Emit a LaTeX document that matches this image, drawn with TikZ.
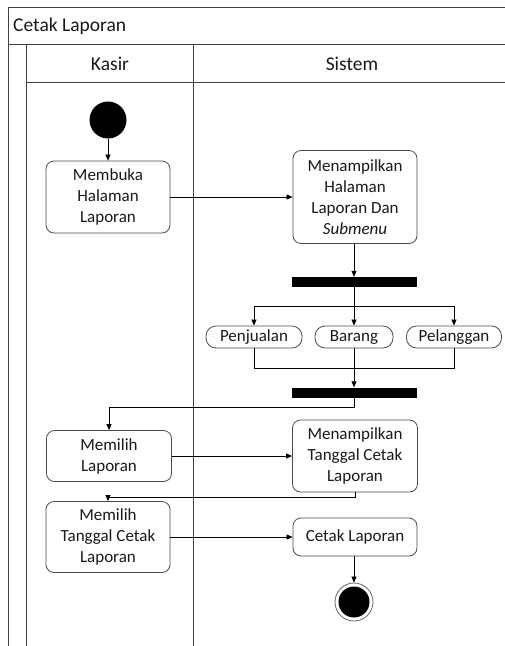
\documentclass[tikz,border=0pt]{standalone}
\usepackage{fontspec}
\setmainfont{Carlito}
\usetikzlibrary{arrows.meta}
\begin{document}
\begin{tikzpicture}[x=1pt,y=-1pt,
  act/.style={draw=black!70, rounded corners=8pt, align=center, font=\fontsize{17}{21}\selectfont, inner sep=0pt, line width=0.8pt, fill=white, text=black!90},
  one/.style={text height=12pt, text depth=4pt},
  bar/.style={fill=black, inner sep=0pt, minimum width=125pt, minimum height=10pt},
  arr/.style={-{Triangle[length=6pt,width=5pt]}, line width=0.7pt},
  conn/.style={line width=0.7pt},
  lane/.style={draw=black!75, line width=1pt},
  hdr/.style={font=\fontsize{19.5}{22}\selectfont, inner sep=0pt, text=black!90}]
\useasboundingbox (0,0) rectangle (505,646);
% frame
\draw[lane] (8,646) -- (8,7) -- (505,7);
\draw[lane] (8,44) -- (505,44);
\draw[lane] (26,646) -- (26,44);
\draw[lane] (26,82) -- (505,82);
\draw[lane] (193,44) -- (193,646);
\node[hdr, anchor=base west] (title) at (13,31.5) {Cetak Laporan};
\node[hdr, anchor=base] (kasir) at (110,70) {Kasir};
\node[hdr, anchor=base] (sistem) at (352,70) {Sistem};
% nodes
\node[circle, fill=black, minimum size=37pt, inner sep=0pt] (start) at (108,120) {};
\node[act, minimum width=124pt, minimum height=72pt] (b1) at (108,197) {Membuka\\Halaman\\Laporan};
\node[act, minimum width=124pt, minimum height=93pt] (b2) at (355,197) {Menampilkan\\Halaman\\Laporan Dan\\\textit{Submenu}};
\node[bar] (f1) at (354,282) {};
\node[act, one, minimum width=96pt, minimum height=22pt, rounded corners=10pt] (pj) at (254,337) {Penjualan};
\node[act, one, minimum width=78pt, minimum height=22pt, rounded corners=10pt] (br) at (354,337) {Barang};
\node[act, one, minimum width=95pt, minimum height=22pt, rounded corners=10pt] (pl) at (454,337) {Pelanggan};
\node[bar] (f2) at (354,392.5) {};
\node[act, minimum width=125pt, minimum height=51pt] (ml) at (109,456) {Memilih\\Laporan};
\node[act, minimum width=125pt, minimum height=72pt] (mt) at (355,456) {Menampilkan\\Tanggal Cetak\\Laporan};
\node[act, minimum width=124pt, minimum height=71pt] (mtc) at (108,537) {Memilih\\Tanggal Cetak\\Laporan};
\node[act, one, minimum width=124pt, minimum height=38pt] (ct) at (355,537) {Cetak Laporan};
\node[circle, draw=black!60, line width=0.8pt, minimum size=38pt, inner sep=0pt] (end) at (354,602) {};
\fill[black] (end.center) circle (15.5pt);
% connectors
\draw[arr] (start) -- (b1);
\draw[arr] (b1) -- (b2);
\draw[arr] (b2.south -| f1) -- (f1.north);
\coordinate (fsplit) at (354,306);
\draw[conn] (pj.north |- fsplit) -- (pl.north |- fsplit);
\draw[arr] (pj.north |- fsplit) -- (pj.north);
\draw[arr] (pl.north |- fsplit) -- (pl.north);
\draw[arr] (f1.south) -- (br.north);
\coordinate (mj) at (354,368);
\draw[conn] (pj.south) -- (pj.south |- mj) -- (pl.south |- mj) -- (pl.south);
\draw[arr] (br.south) -- (f2.north);
\draw[arr] (f2.south) -- ++(0,10) -| (ml.north);
\draw[arr] (ml) -- (mt);
\draw[arr] (mt.south) -- ++(0,5) -| (mtc.north);
\draw[arr] (mtc) -- (ct);
\draw[arr] (ct.south -| end) -- (end.north);
\end{tikzpicture}
\end{document}
